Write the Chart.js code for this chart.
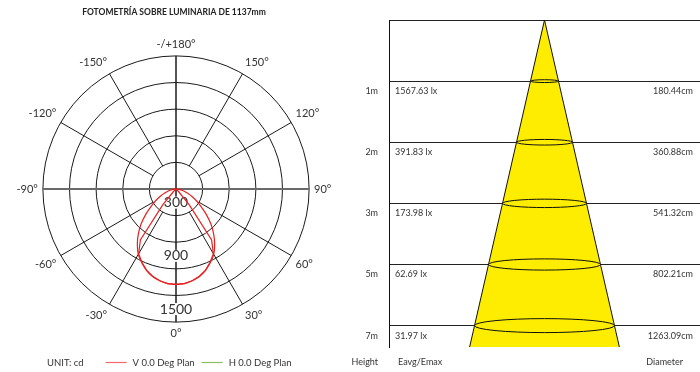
<!DOCTYPE html>
<html>
<head>
<meta charset="utf-8">
<script src="https://cdn.jsdelivr.net/npm/chart.js@4"></script>
<style>
  body { margin: 0; background: #fff; width: 700px; height: 372px; overflow: hidden; position: relative; }
  #polarBox { position: absolute; left: 0; top: 0; width: 350px; height: 372px; }
  #coneBox { position: absolute; left: 340px; top: 0; width: 360px; height: 372px; }
</style>
</head>
<body>
<div id="polarBox"><canvas id="polar"></canvas></div>
<div id="coneBox"><canvas id="cone"></canvas></div>
<script>
// polar diagram: intensity in cd, every 5 deg from nadir (0) to 90
var angleLabels = ['-/+180°', '150°', '120°', '90°', '60°', '30°', '0°', '-30°', '-60°', '-90°', '-120°', '-150°'];
var vPlan = [1075, 1070, 1050, 1020, 975, 915, 850, 760, 660, 555, 445, 345, 265, 195, 135, 95, 55, 20, 0];
var hPlan = [1075, 1070, 1050, 1018, 972, 910, 842, 700, 230, 40, 0, 0, 0, 0, 0, 0, 0, 0, 0];
var ringLabels = [300, 900, 1500];

// cone diagram
var heights = ['1m', '2m', '3m', '5m', '7m'];
var lux = ['1567.63 lx', '391.83 lx', '173.98 lx', '62.69 lx', '31.97 lx'];
var diameters = ['180.44cm', '360.88cm', '541.32cm', '802.21cm', '1263.09cm'];

var FONT = 'Lato, sans-serif';
var yMax = 5.35;          // cone runs a bit past the last row
var coneSpread = 0.09;    // half width of the cone per row (x units)

// 72 spokes, one every 5 deg, clockwise from the top
var spokeLabels = [];
for (var i = 0; i < 72; i++) spokeLabels.push(i % 6 === 0 ? angleLabels[i / 6] : '');

function toRadar(values) {
  var out = [];
  for (var i = 0; i < 72; i++) {
    var g = Math.abs(180 - i * 5) / 5;
    out.push(g < values.length ? values[g] : 0);
  }
  return out;
}

var ringText = {
  id: 'ringText',
  beforeDatasetsDraw: function(chart) {
    var r = chart.scales.r, ctx = chart.ctx;
    ctx.save();
    ctx.font = '14px ' + FONT;
    ctx.textAlign = 'center';
    ctx.textBaseline = 'middle';
    ringLabels.forEach(function(v) {
      var y = r.yCenter + r.getDistanceFromCenterForValue(v) - 13;
      var w = ctx.measureText(String(v)).width;
      ctx.fillStyle = '#fff';
      ctx.fillRect(r.xCenter - w / 2 - 1, y - 6, w + 2, 12);
      ctx.fillStyle = '#333';
      ctx.fillText(String(v), r.xCenter, y);
    });
    ctx.restore();
  },
  afterDraw: function(chart) {
    // unit + legend row
    var ctx = chart.ctx, y = 362.5, x = 47;
    ctx.save();
    ctx.font = '9.5px ' + FONT;
    ctx.textBaseline = 'middle';
    ctx.fillStyle = '#333';
    ctx.fillText('UNIT: cd', x, y);
    x += ctx.measureText('UNIT: cd').width + 22;
    var items = [['V 0.0 Deg Plan', '#f06a6a'], ['H 0.0 Deg Plan', '#8cc063']];
    items.forEach(function(it) {
      ctx.strokeStyle = it[1];
      ctx.lineWidth = 1.2;
      ctx.beginPath(); ctx.moveTo(x, y); ctx.lineTo(x + 21, y); ctx.stroke();
      x += 27;
      ctx.fillStyle = '#333';
      ctx.fillText(it[0], x, y);
      x += ctx.measureText(it[0]).width + 7;
    });
    ctx.restore();
  }
};

new Chart(document.getElementById('polar'), {
  type: 'radar',
  data: {
    labels: spokeLabels,
    datasets: [{
      label: 'V 0.0 Deg Plan',
      data: toRadar(vPlan),
      borderColor: '#e82020',
      borderWidth: 1.2,
      pointRadius: 0,
      fill: false,
      tension: 0.15
    }, {
      label: 'H 0.0 Deg Plan',
      data: toRadar(hPlan),
      borderColor: '#e82020',
      borderWidth: 1.2,
      pointRadius: 0,
      fill: false,
      tension: 0
    }]
  },
  options: {
    animation: false,
    responsive: true,
    maintainAspectRatio: false,
    layout: { padding: { top: 0, bottom: 30, left: 0, right: 2 } },
    plugins: {
      legend: { display: false },
      tooltip: { enabled: false },
      title: {
        display: true,
        text: 'FOTOMETRÍA SOBRE LUMINARIA DE 1137mm',
        color: '#222',
        font: { family: FONT, size: 8.5, weight: 'bold' },
        padding: { top: 7, bottom: 20.5 }
      }
    },
    scales: {
      r: {
        min: 0,
        max: 1500,
        ticks: { stepSize: 300, display: false },
        grid: { circular: true, color: '#1a1a1a', lineWidth: 1 },
        angleLines: {
          color: function(c) { return c.index % 36 === 18 ? '#6a6a6a' : '#1a1a1a'; },
          lineWidth: function(c) {
            if (c.index % 6) return 0;
            if (c.index % 36 === 18) return 2;
            return c.index % 36 === 0 ? 1.5 : 1;
          },
          borderDash: function(c) {
            if (c.index % 18 === 0) return [];
            var r1 = c.chart.scales.r ? c.chart.scales.r.getDistanceFromCenterForValue(300) : 27;
            return [0, r1, 1000];
          }
        },
        pointLabels: { color: '#333', padding: 5, font: { family: FONT, size: 11 } }
      }
    }
  },
  plugins: [ringText]
});

var coneExtras = {
  id: 'coneExtras',
  afterDatasetsDraw: function(chart) {
    var xs = chart.scales.x, ys = chart.scales.y, ctx = chart.ctx;
    ctx.save();
    ctx.strokeStyle = '#111';
    ctx.lineWidth = 1;
    heights.forEach(function(h, k) {
      var row = k + 1;
      var cx = xs.getPixelForValue(0), cy = ys.getPixelForValue(row);
      var rx = xs.getPixelForValue(coneSpread * row) - cx;
      ctx.beginPath();
      ctx.ellipse(cx, cy, rx, rx * 0.1, 0, 0, Math.PI * 2);
      ctx.stroke();
    });
    ctx.restore();
  },
  afterDraw: function(chart) {
    var ys = chart.scales.y, ctx = chart.ctx, a = chart.chartArea;
    ctx.save();
    ctx.font = '9px ' + FONT;
    ctx.fillStyle = '#333';
    ctx.textBaseline = 'middle';
    heights.forEach(function(h, k) {
      var y = ys.getPixelForValue(k + 1) + 10;
      ctx.textAlign = 'left';
      ctx.fillText(lux[k], a.left + 6, y);
      ctx.textAlign = 'right';
      ctx.fillText(diameters[k], a.right - 7, y);
    });
    var yb = 362.5;
    ctx.textAlign = 'right';
    ctx.fillText('Height', a.left - 11, yb);
    ctx.textAlign = 'left';
    ctx.fillText('Eavg/Emax', a.left + 9, yb);
    ctx.textAlign = 'right';
    ctx.fillText('Diameter', a.right - 17, yb);
    ctx.restore();
  }
};

new Chart(document.getElementById('cone'), {
  type: 'scatter',
  data: {
    datasets: [{
      data: [
        { x: -coneSpread * yMax, y: yMax },
        { x: 0, y: 0 },
        { x: coneSpread * yMax, y: yMax }
      ],
      showLine: true,
      borderColor: '#111',
      borderWidth: 1,
      backgroundColor: '#ffed00',
      fill: { value: yMax },
      pointRadius: 0,
      tension: 0
    }]
  },
  options: {
    animation: false,
    responsive: true,
    maintainAspectRatio: false,
    layout: { padding: { top: 20, bottom: 25, left: 0, right: 0 } },
    plugins: { legend: { display: false }, tooltip: { enabled: false } },
    scales: {
      x: { display: false, min: -1, max: 1 },
      y: {
        min: 0,
        max: yMax,
        reverse: true,
        afterBuildTicks: function(s) {
          s.ticks = [0, 1, 2, 3, 4, 5].map(function(v) { return { value: v }; });
        },
        afterFit: function(s) { s.width = 49; },
        grid: { color: '#222', lineWidth: 1, drawTicks: false },
        border: { color: '#111', width: 1 },
        ticks: {
          callback: function(v) { return v === 0 ? '' : heights[v - 1]; },
          labelOffset: 10,
          padding: 11,
          color: '#333',
          font: { family: FONT, size: 9 }
        }
      }
    }
  },
  plugins: [coneExtras]
});
</script>
</body>
</html>
